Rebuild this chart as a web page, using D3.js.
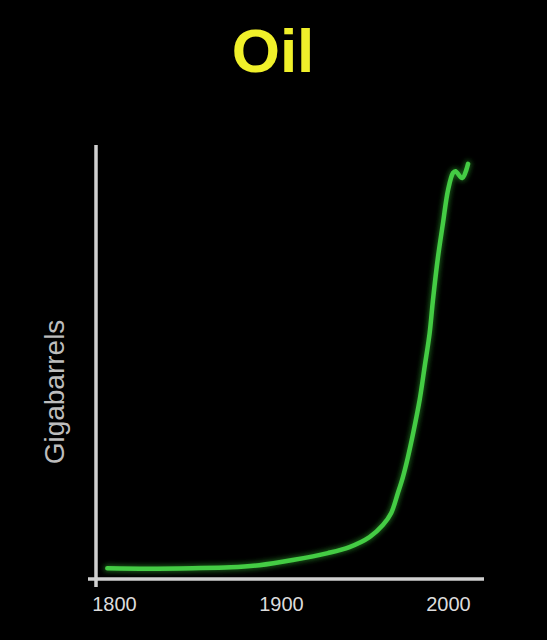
<!DOCTYPE html>
<html>
<head>
<meta charset="utf-8">
<script src="https://cdn.jsdelivr.net/npm/d3@7/dist/d3.min.js"></script>
<style>
  html, body { margin: 0; padding: 0; background: #000; }
  svg { display: block; }
</style>
</head>
<body>
<svg id="chart" width="547" height="640"></svg>
<script>
// ---- data ----
const title = "Oil";
const yLabel = "Gigabarrels";
const tickYears = [1800, 1900, 2000];
const years  = [1796, 1820, 1847, 1870, 1887, 1907, 1928, 1941, 1953, 1961, 1966, 1970, 1973, 1976, 1979, 1983, 1986, 1989, 1991, 1994, 1997, 2000, 2003, 2004.5, 2008.5, 2012];
const values = [2.5,  2.4,  2.5,  2.7,  3.2,  4.4,  6.0,  7.4,  9.7,  12.5, 15.3, 19.9, 23.6, 28.2, 33.5, 41.4, 49.1, 56.9, 64.6, 74.5, 82.4, 90.0, 94.0, 94.4, 92.8, 96.1];

const svg = d3.select("#chart");
svg.append("rect").attr("width", 547).attr("height", 640).attr("fill", "#000");

const x = d3.scaleLinear().domain([1800, 2000]).range([114, 448]);
const y = d3.scaleLinear().domain([0, 100]).range([579, 147]);

// glow filter
const defs = svg.append("defs");
const f = defs.append("filter").attr("id", "glow").attr("x", "-20%").attr("y", "-20%").attr("width", "140%").attr("height", "140%");
f.append("feGaussianBlur").attr("stdDeviation", 2.5);

// title
svg.append("text")
  .attr("x", 273).attr("y", 72)
  .attr("text-anchor", "middle")
  .attr("font-family", "'Liberation Sans', Arial, sans-serif")
  .attr("font-weight", "bold")
  .attr("font-size", 62)
  .attr("fill", "#f0f02a")
  .text(title);

// axes
const axisColor = "#d0d0d0";
svg.append("line").attr("x1", 96).attr("x2", 96).attr("y1", 145).attr("y2", 587)
  .attr("stroke", axisColor).attr("stroke-width", 3.5);
svg.append("line").attr("x1", 88).attr("x2", 484).attr("y1", 579).attr("y2", 579)
  .attr("stroke", axisColor).attr("stroke-width", 3.5);

// tick labels via axis
const xAxis = d3.axisBottom(x).tickValues(tickYears).tickFormat(d3.format("d")).tickSize(0).tickPadding(0);
const gx = svg.append("g").attr("transform", "translate(0,597)").call(xAxis);
gx.select(".domain").remove();
gx.selectAll("text")
  .attr("font-family", "'Liberation Sans', Arial, sans-serif")
  .attr("font-size", 20)
  .attr("fill", "#dcdcdc")
  .attr("dy", "0.71em");

// y label
svg.append("text")
  .attr("transform", "translate(64,392) rotate(-90)")
  .attr("text-anchor", "middle")
  .attr("font-family", "'Liberation Sans', Arial, sans-serif")
  .attr("font-size", 28)
  .attr("fill", "#bdbdbd")
  .text(yLabel);

// line
const pts = years.map((yr, i) => [yr, values[i]]);
const line = d3.line().x(d => x(d[0])).y(d => y(d[1])).curve(d3.curveCatmullRom.alpha(0.5));
svg.append("path").attr("d", line(pts)).attr("fill", "none")
  .attr("stroke", "#2a9a2a").attr("stroke-width", 7).attr("opacity", 0.6)
  .attr("filter", "url(#glow)").attr("stroke-linecap", "round");
svg.append("path").attr("d", line(pts)).attr("fill", "none")
  .attr("stroke", "#44cc44").attr("stroke-width", 4.5)
  .attr("stroke-linecap", "round").attr("stroke-linejoin", "round");
</script>
</body>
</html>
